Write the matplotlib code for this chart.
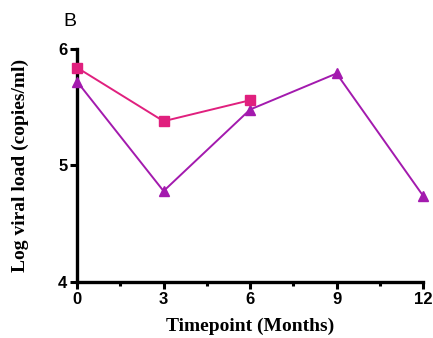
import matplotlib
matplotlib.use("Agg")
import matplotlib.pyplot as plt
from matplotlib.ticker import MultipleLocator

# Viral load over time for two groups
months_sq = [0, 3, 6]
load_sq = [5.84, 5.38, 5.56]
months_tri = [0, 3, 6, 9, 12]
load_tri = [5.72, 4.78, 5.48, 5.79, 4.74]
xticks = [0, 3, 6, 9, 12]
yticks = [4, 5, 6]

fig = plt.figure(figsize=(4.33, 3.38), dpi=100)
ax = fig.add_axes([0.178, 0.166, 0.799, 0.689])

ax.plot(months_tri, load_tri, color="#A31AAE", lw=1.4, marker="^", ms=7,
        mec="#A31AAE", mfc="#A31AAE", clip_on=False, zorder=3)
ax.plot(months_sq, load_sq, color="#E0207E", lw=1.4, marker="s", ms=7,
        mec="#E0207E", mfc="#E0207E", clip_on=False, zorder=4)

ax.set_xlim(0, 12)
ax.set_ylim(4, 6)
ax.set_xticks(xticks)
ax.set_yticks(yticks)
ax.xaxis.set_minor_locator(MultipleLocator(1.5))

for s in ("top", "right"):
    ax.spines[s].set_visible(False)
for s in ("left", "bottom"):
    ax.spines[s].set_linewidth(2.4)

ax.tick_params(axis="both", which="major", direction="out", length=5, width=2.2,
               labelsize=12, pad=2)
ax.tick_params(axis="x", which="minor", direction="out", length=3, width=2.2)
for lab in ax.get_xticklabels() + ax.get_yticklabels():
    lab.set_fontweight("bold")
    lab.set_family("Liberation Sans")

ax.set_xlabel("Timepoint (Months)", family="Liberation Serif", fontweight="bold",
              fontsize=14, labelpad=8)
ax.set_ylabel("Log viral load (copies/ml)", family="Liberation Serif", fontweight="bold",
              fontsize=14, labelpad=21)

fig.text(70 / 433, 1 - 22 / 338, "B", family="Liberation Sans", fontsize=14,
         ha="center", va="center")

fig.savefig("out.png", dpi=100)
